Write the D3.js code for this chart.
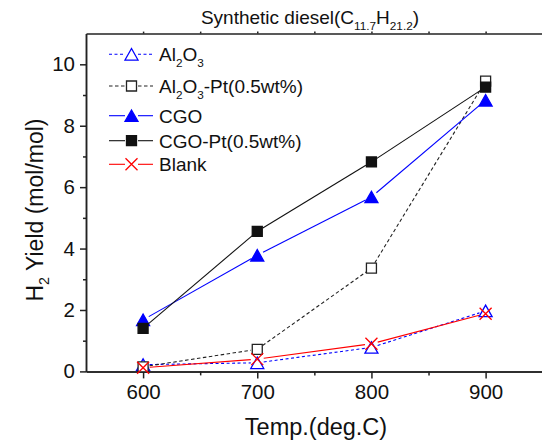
<!DOCTYPE html>
<html>
<head>
<meta charset="utf-8">
<script src="https://cdn.jsdelivr.net/npm/d3@7"></script>
<style>
  body { margin: 0; background: #fff; }
  svg { display: block; }
  text { font-family: "Liberation Sans", Arial, sans-serif; fill: #111; }
</style>
</head>
<body>
<svg id="chart" width="542" height="444"></svg>
<script>
// ---- data ----
const temps = [600, 700, 800, 900];
const al2o3   = [0.22, 0.28, 0.78, 1.97];
const al2o3Pt = [0.15, 0.72, 3.36, 9.45];
const cgo     = [1.68, 3.78, 5.68, 8.83];
const cgoPt   = [1.40, 4.56, 6.82, 9.26];
const blank   = [0.12, 0.40, 0.90, 1.88];
const seriesLabels = ["Al{2}O{3}", "Al{2}O{3}-Pt(0.5wt%)", "CGO", "CGO-Pt(0.5wt%)", "Blank"];
const xTicks = [600, 700, 800, 900];
const xMinorTicks = [650, 750, 850];
const yTicks = [0, 2, 4, 6, 8, 10];
const yMinorTicks = [1, 3, 5, 7, 9];
const titleText = "Synthetic diesel(C{11.7}H{21.2})";
const xTitle = "Temp.(deg.C)";
const yTitle = "H{2} Yield (mol/mol)";

// ---- series styles ----
const styles = [
  { values: al2o3,   color: "#0000ff", dash: "3,2.5", marker: "triangle", open: true },
  { values: al2o3Pt, color: "#222",    dash: "3.5,2.5", marker: "square", open: true },
  { values: cgo,     color: "#0000ff", dash: null,   marker: "triangle", open: false },
  { values: cgoPt,   color: "#111",    dash: null,   marker: "square",   open: false },
  { values: blank,   color: "#ff0000", dash: null,   marker: "cross",    open: true }
];

const svg = d3.select("#chart");
const x = d3.scaleLinear().domain([550, 950]).range([86, 542.7]);
const y = d3.scaleLinear().domain([0, 11]).range([371.4, 33.6]);

// text with {subscript} segments
function richText(sel, str, size) {
  const parts = str.split(/(\{[^}]*\})/).filter(s => s.length);
  let lowered = false;
  parts.forEach(p => {
    const isSub = p.startsWith("{");
    const t = isSub ? p.slice(1, -1) : p;
    const ts = sel.append("tspan").text(t);
    if (isSub) {
      ts.attr("font-size", size * 0.62).attr("dy", lowered ? 0 : size * 0.3);
      lowered = true;
    } else {
      ts.attr("font-size", size);
      if (lowered) { ts.attr("dy", -size * 0.3); lowered = false; }
    }
  });
  return sel;
}

function markerPath(type) {
  if (type === "triangle") {
    const w = 13, h = 11.5;
    return `M0,${-h / 2}L${w / 2},${h / 2}L${-w / 2},${h / 2}Z`;
  }
  if (type === "square") {
    const s = 10;
    return `M${-s / 2},${-s / 2}h${s}v${s}h${-s}Z`;
  }
  const c = 6;
  return `M${-c},${-c}L${c},${c}M${-c},${c}L${c},${-c}`;
}

function drawMarker(g, st, cx, cy) {
  const p = g.append("path")
    .attr("d", markerPath(st.marker))
    .attr("transform", `translate(${cx},${cy})`)
    .attr("stroke", st.color)
    .attr("stroke-width", st.marker === "cross" ? 1.3 : 1.3);
  if (st.marker === "cross") p.attr("fill", "none");
  else p.attr("fill", st.open ? "#fff" : st.color);
}

// ---- axes ----
const axisColor = "#222";
function styleAxis(g) {
  g.selectAll("path.domain").attr("stroke", axisColor).attr("stroke-width", 1.5);
  g.selectAll(".tick line").attr("stroke", axisColor).attr("stroke-width", 1.5);
  g.selectAll(".tick text").attr("fill", "#111")
    .attr("font-family", '"Liberation Sans", Arial, sans-serif');
}

const gx = svg.append("g").attr("transform", `translate(0,${y(0)})`)
  .call(d3.axisBottom(x).tickValues(xTicks).tickSize(7).tickSizeOuter(0).tickPadding(6.5))
  .call(styleAxis);
gx.selectAll(".tick text").attr("font-size", 20.5);

svg.append("g").attr("transform", `translate(0,${y(0)})`)
  .call(d3.axisBottom(x).tickValues(xMinorTicks).tickSize(4).tickSizeOuter(0).tickFormat(""))
  .call(styleAxis);

svg.append("g").attr("transform", `translate(0,${y(11)})`)
  .call(d3.axisTop(x).tickValues(xTicks.concat(xMinorTicks)).tickSize(2).tickSizeOuter(0).tickFormat(""))
  .call(styleAxis);

const gy = svg.append("g").attr("transform", `translate(${x(550)},0)`)
  .call(d3.axisLeft(y).tickValues(yTicks).tickSize(6).tickSizeOuter(0).tickPadding(5))
  .call(styleAxis);
gy.selectAll(".tick text").attr("font-size", 20.5);

svg.append("g").attr("transform", `translate(${x(550)},0)`)
  .call(d3.axisLeft(y).tickValues(yMinorTicks).tickSize(3).tickSizeOuter(0).tickFormat(""))
  .call(styleAxis);

// ---- series ----
const gap = 6.5;
styles.forEach(st => {
  const g = svg.append("g");
  const pts = temps.map((t, i) => [x(t), y(st.values[i])]);
  for (let i = 0; i < pts.length - 1; i++) {
    const [x0, y0] = pts[i], [x1, y1] = pts[i + 1];
    const dx = x1 - x0, dy = y1 - y0, len = Math.hypot(dx, dy);
    if (len <= 2 * gap) continue;
    const ux = dx / len, uy = dy / len;
    g.append("line")
      .attr("x1", x0 + ux * gap).attr("y1", y0 + uy * gap)
      .attr("x2", x1 - ux * gap).attr("y2", y1 - uy * gap)
      .attr("stroke", st.color).attr("stroke-width", 1.1)
      .attr("stroke-dasharray", st.dash);
  }
  pts.forEach(([cx, cy]) => drawMarker(g, st, cx, cy));
});

// ---- legend ----
const legendRows = [54.3, 86, 115.7, 140.7, 164.3];
const legend = svg.append("g");
styles.forEach((st, i) => {
  const ly = legendRows[i];
  [[109, 125], [138, 153]].forEach(([a, b]) => {
    legend.append("line").attr("x1", a).attr("x2", b).attr("y1", ly).attr("y2", ly)
      .attr("stroke", st.color).attr("stroke-width", 1.1)
      .attr("stroke-dasharray", st.dash);
  });
  drawMarker(legend, st, 131.5, ly);
  richText(legend.append("text").attr("x", 159).attr("y", ly + 6.8), seriesLabels[i], 19);
});

// ---- titles ----
richText(svg.append("text").attr("x", 310).attr("y", 24).attr("text-anchor", "middle"), titleText, 19);

svg.append("text").attr("x", 316).attr("y", 435).attr("text-anchor", "middle")
  .attr("font-size", 23.5).text(xTitle);

richText(svg.append("text")
  .attr("transform", "translate(42.5,210) rotate(-90)")
  .attr("text-anchor", "middle"), yTitle, 23);
</script>
</body>
</html>
